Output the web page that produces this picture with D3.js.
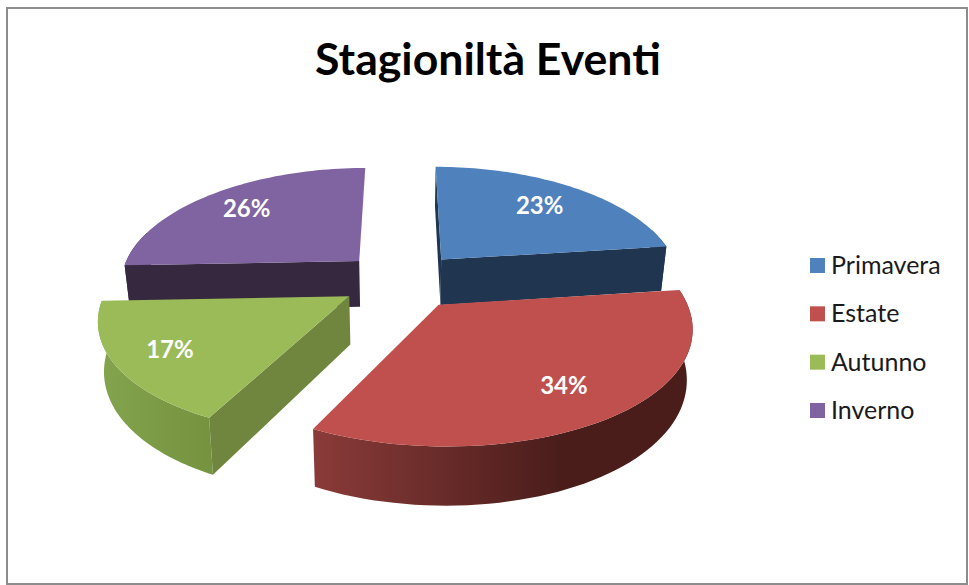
<!DOCTYPE html>
<html>
<head>
<meta charset="utf-8">
<script src="https://cdn.jsdelivr.net/npm/d3@7"></script>
<style>
html, body { margin: 0; padding: 0; background: #fff; }
svg { display: block; }
text { font-family: Lato, "Open Sans", sans-serif; }
</style>
</head>
<body>
<svg width="969" height="585"></svg>
<script>
var title = "Stagionilt\u00e0 Eventi";
var categories = ["Primavera", "Estate", "Autunno", "Inverno"];
var values = [23, 34.4, 17, 25.6];
var topColors = ["#4f81bd", "#c0504d", "#9bbb59", "#8064a2"];
var wallColors = ["#1f3550", "#4a1e1c", "#70863f", "#35283f"];
var rimLeft = ["#1f3550", "#8a3b39", "#84a44e", "#35283f"];
var rimRight = ["#1f3550", "#4a1d1b", "#76933f", "#35283f"];

/* fake 3d setting */
var explode = 0.255;   // how far each slice moves out
var perspectiveX = 0.17;
var perspectiveY = 0.15;
var depth = 47;        // wall height in px
var bottomShrink = 0.98;
// how far along the slice the % label sits
var labelRadius = [0.72, 0.75, 0.785, 0.75];

var svg = d3.select("svg");
var defs = svg.append("defs");

var sx = d3.scaleLinear().domain([-1, 1]).range([162, 642]);
var sy = d3.scaleLinear().domain([-1, 1]).range([168, 393]);
var color = d3.scaleOrdinal().domain(categories).range(topColors);

// ground plane point -> screen
function project(X, Y, bottom) {
	var w = 1 - perspectiveX * Y;
	var k = bottom ? bottomShrink : 1;
	return [
		sx(0) + (sx(X) - sx(0)) / w * k,
		sy(Y / (1 - perspectiveY * Y)) + (bottom ? depth / w : 0)
	];
}

var line = d3.line();
var pie = d3.pie().sort(null).startAngle(0).endAngle(2 * Math.PI);
var slices = pie(values);

// frame
svg.append("rect").attr("x", 7).attr("y", 8).attr("width", 960).attr("height", 576)
	.attr("fill", "#fff").attr("stroke", "#8c8c8c").attr("stroke-width", 2);

svg.append("text")
	.attr("x", 488).attr("y", 75)
	.attr("text-anchor", "middle")
	.attr("font-size", 44.6).attr("font-weight", "bold")
	.attr("fill", "#000")
	.text(title);

function offset(d) {
	var mid = (d.startAngle + d.endAngle) / 2;
	return [explode * Math.sin(mid), -explode * Math.cos(mid)];
}

function arcPoints(d, bottom) {
	var o = offset(d), pts = [];
	var n = 60;
	d3.range(n + 1).forEach(function (i) {
		var a = d.startAngle + (d.endAngle - d.startAngle) * i / n;
		pts.push(project(o[0] + Math.sin(a), o[1] - Math.cos(a), bottom));
	});
	return pts;
}

// back slices first so the front ones cover them
var order = [3, 0, 2, 1];
var g = svg.append("g");

order.forEach(function (i) {
	var d = slices[i];
	var o = offset(d);
	var top = arcPoints(d, false);
	var bot = arcPoints(d, true);
	var apexTop = project(o[0], o[1], false);
	var apexBot = project(o[0], o[1], true);

	var grad = defs.append("linearGradient")
		.attr("id", "rim" + i)
		.attr("gradientUnits", "userSpaceOnUse")
		.attr("x1", d3.min(top, function (p) { return p[0]; }))
		.attr("x2", i == 1 ? 560 : d3.max(top, function (p) { return p[0]; }))
		.attr("y1", 0).attr("y2", 0);
	grad.append("stop").attr("offset", 0).attr("stop-color", rimLeft[i]);
	grad.append("stop").attr("offset", 1).attr("stop-color", rimRight[i]);

	// outer rim, front part only
	var front = d3.range(top.length).filter(function (j) {
		var a = d.startAngle + (d.endAngle - d.startAngle) * j / (top.length - 1);
		return Math.cos(a) < 0.3;
	});
	if (front.length > 1) {
		var rimTop = front.map(function (j) { return top[j]; });
		var rimBot = front.map(function (j) { return bot[j]; });
		g.append("path")
			.attr("d", line(rimTop.concat(rimBot.reverse())) + "Z")
			.attr("fill", "url(#rim" + i + ")");
	}

	// radial walls, only the ones turned towards the viewer
	if (-Math.sin(d.startAngle) > -1e-6) {
		g.append("path")
			.attr("d", line([apexTop, top[0], bot[0], apexBot]) + "Z")
			.attr("fill", wallColors[i]);
	}
	if (Math.sin(d.endAngle) > 1e-6) {
		g.append("path")
			.attr("d", line([apexTop, top[top.length - 1], bot[bot.length - 1], apexBot]) + "Z")
			.attr("fill", wallColors[i]);
	}

	// top face
	g.append("path")
		.attr("d", line([apexTop].concat(top)) + "Z")
		.attr("fill", color(categories[i]));
});

// % labels
slices.forEach(function (d, i) {
	var o = offset(d);
	var mid = (d.startAngle + d.endAngle) / 2;
	var r = labelRadius[i];
	var p = project(o[0] + r * Math.sin(mid), o[1] - r * Math.cos(mid), false);
	svg.append("text")
		.attr("x", p[0]).attr("y", p[1] + 8)
		.attr("text-anchor", "middle")
		.attr("font-size", 24).attr("font-weight", "bold")
		.attr("fill", "#fff")
		.text(Math.round(values[i]) + "%");
});

// legend
var ly = d3.scalePoint().domain(categories).range([266, 411]);
var legend = svg.selectAll(".legend")
	.data(categories)
	.enter().append("g")
	.attr("class", "legend")
	.attr("transform", function (d) { return "translate(810," + ly(d) + ")"; });
legend.append("rect")
	.attr("x", 0).attr("y", -8).attr("width", 15).attr("height", 15)
	.attr("fill", function (d) { return color(d); });
legend.append("text")
	.attr("x", 21).attr("y", 8)
	.attr("font-size", 25)
	.attr("fill", "#1a1a1a")
	.text(function (d) { return d; });
</script>
</body>
</html>
